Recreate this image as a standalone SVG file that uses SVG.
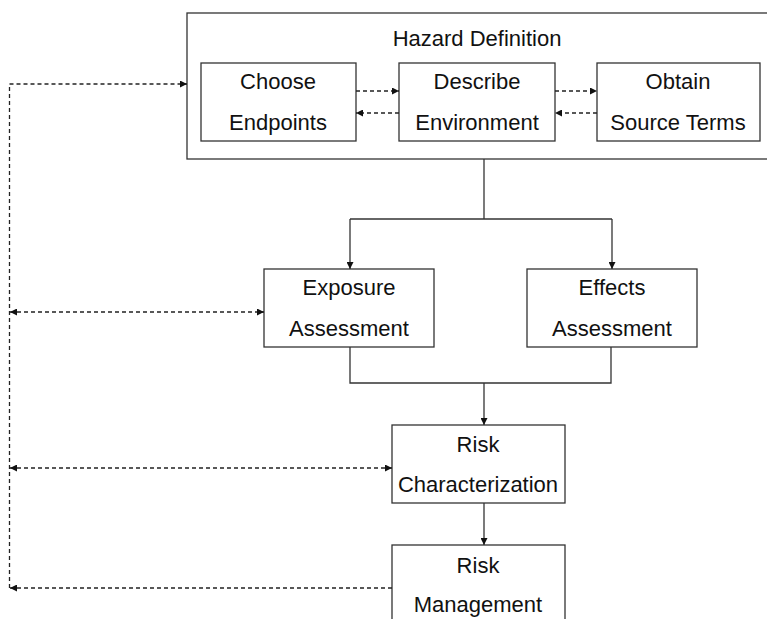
<svg xmlns="http://www.w3.org/2000/svg" width="767" height="619" viewBox="0 0 767 619">
<style>
.box{fill:#fff;stroke:#333;stroke-width:1.3}
.t{font-family:"Liberation Sans",Arial,sans-serif;font-size:22px;fill:#111;text-anchor:middle}
.s{fill:none;stroke:#333;stroke-width:1.3}
.d{fill:none;stroke:#222;stroke-width:1.3;stroke-dasharray:4 3}
</style>
<defs>
<marker id="a" viewBox="0 0 10 10" refX="10" refY="5" markerWidth="7" markerHeight="7" markerUnits="userSpaceOnUse" orient="auto-start-reverse"><path d="M0,0L10,5L0,10z" fill="#111"/></marker>
</defs>
<rect x="0" y="0" width="767" height="619" fill="#fff"/>
<g id="hazard">
<rect class="box" x="187" y="13" width="590" height="146"/>
<text class="t" x="477" y="46">Hazard Definition</text>
</g>
<g id="choose">
<rect class="box" x="201" y="63" width="155" height="78"/>
<text class="t" x="278" y="89">Choose</text>
<text class="t" x="278" y="130">Endpoints</text>
</g>
<g id="describe">
<rect class="box" x="399" y="63" width="156" height="78"/>
<text class="t" x="477" y="89">Describe</text>
<text class="t" x="477" y="130">Environment</text>
</g>
<g id="obtain">
<rect class="box" x="597" y="63" width="163" height="78"/>
<text class="t" x="678" y="89">Obtain</text>
<text class="t" x="678" y="130">Source Terms</text>
</g>
<g id="exposure">
<rect class="box" x="264" y="269" width="170" height="78"/>
<text class="t" x="349" y="295">Exposure</text>
<text class="t" x="349" y="336">Assessment</text>
</g>
<g id="effects">
<rect class="box" x="527" y="269" width="170" height="78"/>
<text class="t" x="612" y="295">Effects</text>
<text class="t" x="612" y="336">Assessment</text>
</g>
<g id="riskchar">
<rect class="box" x="392" y="425" width="173" height="78"/>
<text class="t" x="478" y="452">Risk</text>
<text class="t" x="478" y="492">Characterization</text>
</g>
<g id="riskmgmt">
<rect class="box" x="392" y="545" width="173" height="90"/>
<text class="t" x="478" y="573">Risk</text>
<text class="t" x="478" y="612">Management</text>
</g>
<g id="connectors">
<path class="d" d="M356,91H399" marker-end="url(#a)"/>
<path class="d" d="M399,113H356" marker-end="url(#a)"/>
<path class="d" d="M555,91H597" marker-end="url(#a)"/>
<path class="d" d="M597,113H555" marker-end="url(#a)"/>
<path class="s" d="M484,159V219"/>
<path class="s" d="M350,219H612"/>
<path class="s" d="M350,219V269" marker-end="url(#a)"/>
<path class="s" d="M612,219V269" marker-end="url(#a)"/>
<path class="s" d="M350,347V383H611V347"/>
<path class="s" d="M484,383V425" marker-end="url(#a)"/>
<path class="s" d="M484,503V545" marker-end="url(#a)"/>
<path class="d" d="M9.5,588V84H187" marker-end="url(#a)"/>
<path class="d" d="M10,312H264" marker-start="url(#a)" marker-end="url(#a)"/>
<path class="d" d="M10,468H392" marker-start="url(#a)" marker-end="url(#a)"/>
<path class="d" d="M392,588H10" marker-end="url(#a)"/>
</g>
</svg>
